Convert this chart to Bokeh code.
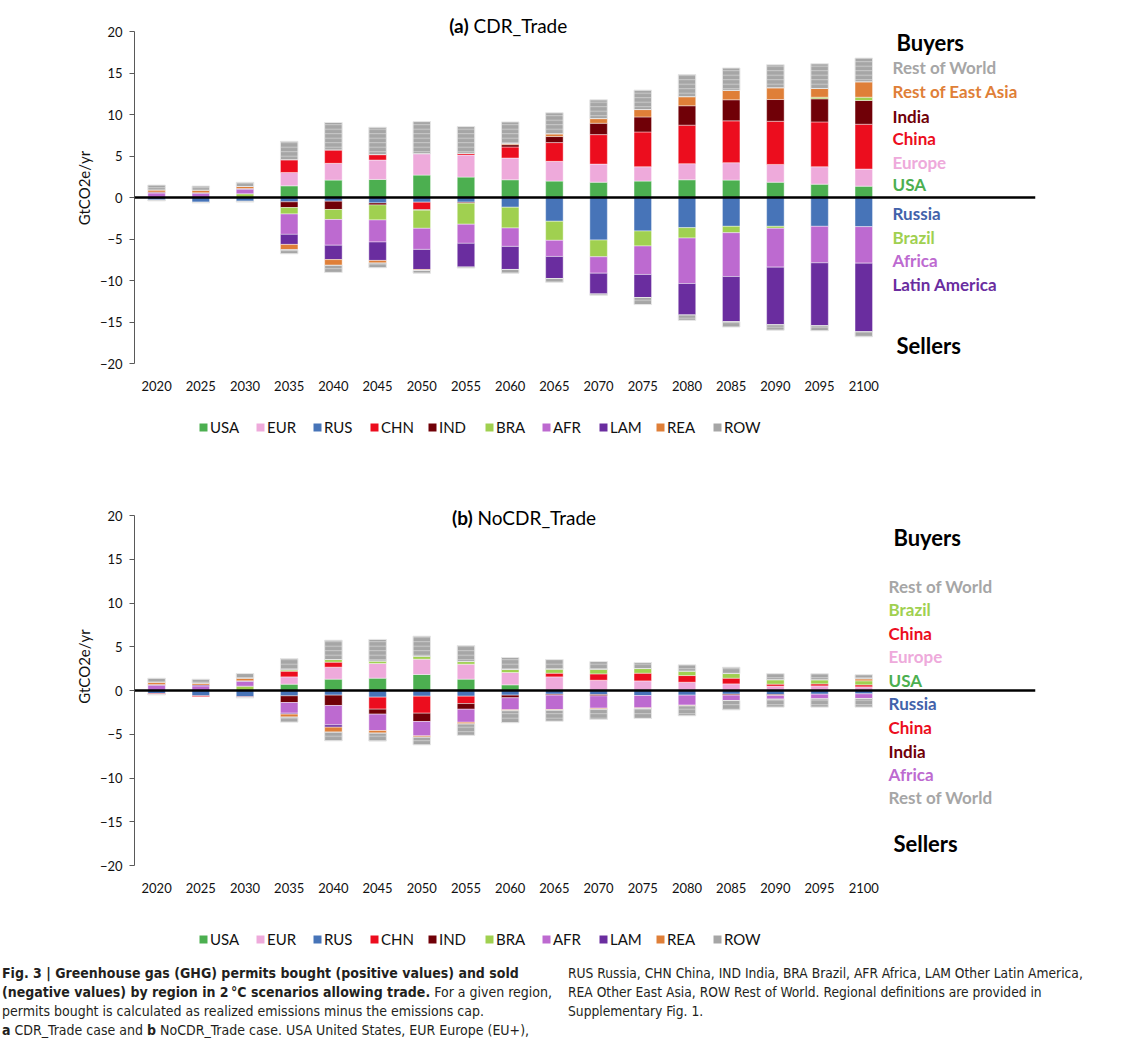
import numpy as np
from bokeh.plotting import figure
from bokeh.models import (Range1d, FixedTicker, Span, Label, Legend, LegendItem,
                          Div, ColumnDataSource)
from bokeh.layouts import column
from bokeh.embed import file_html
from bokeh.resources import INLINE

# ---------------- data ----------------
years = ["2020", "2025", "2030", "2035", "2040", "2045", "2050", "2055", "2060",
         "2065", "2070", "2075", "2080", "2085", "2090", "2095", "2100"]
regions = ["USA", "EUR", "RUS", "CHN", "IND", "BRA", "AFR", "LAM", "REA", "ROW"]

# (a) CDR_Trade  (GtCO2e/yr; + bought, - sold)
a_USA = [0, 0, 0, 1.41, 2.10, 2.18, 2.70, 2.46, 2.14, 1.98, 1.85, 1.98, 2.14, 2.10, 1.85, 1.61, 1.37]
a_EUR = [0, 0, 0, 1.61, 2.02, 2.34, 2.58, 2.66, 2.62, 2.38, 2.18, 1.73, 1.94, 2.10, 2.14, 2.10, 2.06]
a_RUS = [-0.30, -0.55, -0.45, -0.52, -0.44, -0.65, -0.56, -0.56, -1.17, -2.86, -5.12, -4.03, -3.63, -3.47, -3.47, -3.47, -3.51]
a_CHN = [0, -0.05, 0, 1.53, 1.61, 0.65, -0.89, 0.20, 1.33, 2.26, 3.55, 4.19, 4.64, 5.04, 5.20, 5.40, 5.40]
a_IND = [0, 0, 0, -0.69, -1.00, -0.24, -0.08, -0.12, 0.28, 0.73, 1.37, 1.81, 2.34, 2.54, 2.62, 2.78, 2.86]
a_BRA = [0, 0, 0.45, -0.77, -1.21, -1.81, -2.18, -2.54, -2.50, -2.30, -2.02, -1.81, -1.25, -0.77, -0.24, 0.20, 0.40]
a_AFR = [0.55, 0.50, 0.55, -2.46, -3.10, -2.66, -2.54, -2.30, -2.22, -1.94, -1.98, -3.43, -5.48, -5.28, -4.68, -4.40, -4.40]
a_LAM = [0.10, 0.08, 0.08, -1.21, -1.73, -2.22, -2.42, -2.86, -2.78, -2.66, -2.50, -2.78, -3.79, -5.44, -6.94, -7.58, -8.27]
a_REA = [0.25, 0.30, 0.25, -0.65, -0.69, -0.32, -0.12, 0, 0.12, 0.32, 0.56, 0.89, 1.09, 1.13, 1.41, 1.05, 1.85]
a_ROW_buy = [0.60, 0.50, 0.50, 2.22, 3.31, 3.30, 3.87, 3.23, 2.62, 2.54, 2.26, 2.34, 2.66, 2.70, 2.78, 2.98, 2.86]
a_ROW_sell = [-0.10, -0.05, -0.10, -0.48, -0.85, -0.56, -0.32, -0.12, -0.44, -0.44, -0.16, -0.85, -0.65, -0.65, -0.65, -0.60, -0.60]

# (b) NoCDR_Trade
b_USA = [0, 0, 0, 0.72, 1.30, 1.41, 1.83, 1.30, 0.65, 0, 0, 0, 0, 0, 0, 0, 0]
b_EUR = [0, 0, 0, 0.84, 1.37, 1.68, 1.75, 1.71, 1.41, 1.56, 1.18, 1.10, 0.95, 0.76, 0.50, 0.53, 0.42]
b_RUS = [-0.35, -0.60, -0.70, -0.61, -0.53, -0.76, -0.65, -0.65, -0.53, -0.42, -0.46, -0.57, -0.53, -0.42, -0.46, -0.42, -0.38]
b_CHN = [-0.10, -0.10, -0.10, 0.65, 0.57, -1.37, -1.94, -0.84, 0, 0.42, 0.72, 0.88, 0.76, 0.65, 0.23, 0.23, 0.23]
b_IND = [0, 0, 0, -0.76, -1.18, -0.57, -0.95, -0.65, -0.30, -0.11, -0.15, 0, 0, -0.11, -0.11, 0, 0]
b_BRA = [0, 0, 0.50, 0.15, 0.30, 0.27, 0.34, 0.30, 0.34, 0.46, 0.53, 0.53, 0.50, 0.53, 0.50, 0.46, 0.46]
b_AFR = [0.60, 0.53, 0.53, -1.22, -2.21, -1.87, -1.64, -1.49, -1.37, -1.64, -1.41, -1.41, -1.14, -0.61, -0.42, -0.53, -0.53]
b_LAM = [0.10, 0.10, 0.08, -0.11, -0.27, 0, 0, 0, 0, 0, 0, 0, 0, 0, 0, 0, 0]
b_REA = [0.25, 0.20, 0.30, -0.34, -0.57, -0.30, -0.15, -0.19, -0.11, -0.08, -0.11, -0.08, -0.08, 0, 0, 0, 0.23]
b_ROW_buy = [0.45, 0.46, 0.53, 1.30, 2.21, 2.48, 2.29, 1.83, 1.37, 1.10, 0.88, 0.69, 0.72, 0.72, 0.69, 0.69, 0.46]
b_ROW_sell = [-0.05, 0, -0.05, -0.57, -0.99, -0.91, -0.88, -1.30, -1.37, -1.26, -1.18, -1.14, -1.14, -1.07, -0.91, -0.95, -0.99]

a_side_names = ["Rest of World", "Rest of East Asia", "India", "China", "Europe", "USA",
                "Russia", "Brazil", "Africa", "Latin America"]
a_side_keys = ["ROW", "REA", "IND", "CHN", "EUR", "USA", "RUS", "BRA", "AFR", "LAM"]
b_side_names = ["Rest of World", "Brazil", "China", "Europe", "USA",
                "Russia", "China", "India", "Africa", "Rest of World"]
b_side_keys = ["ROW", "BRA", "CHN", "EUR", "USA", "RUS", "CHN", "IND", "AFR", "ROW"]

colors = {"USA": "#4CAF50", "EUR": "#EEAADB", "RUS": "#4774B8", "CHN": "#EC0D1E",
          "IND": "#700007", "BRA": "#A0D050", "AFR": "#BD6AD0", "LAM": "#6A2D9F",
          "REA": "#DF7F38", "ROW": "#A6A6A6"}
label_colors = dict(colors)
label_colors["RUS"] = "#4262AA"

FONT = "Lato"
W = 1118
LEFT = 134
RIGHT = 83
BAR_W = 0.396
SOLID = dict(line_color="white", line_width=0.6, line_alpha=0.7)
HATCH = dict(line_color="#E6E6E6", line_width=1, hatch_pattern="horizontal_line",
             hatch_color="#D4D4D4", hatch_scale=4.5, hatch_weight=0.8)


def stack_sources(data, row_buy, row_sell):
    n = len(years)
    idx = np.arange(n)
    pos = np.zeros(n)
    neg = np.zeros(n)
    out = []
    for r in regions[:-1]:
        v = np.array(data[r], dtype=float)
        bottom = np.where(v >= 0, pos, neg + v)
        top = np.where(v >= 0, pos + v, neg)
        keep = v != 0
        out.append((r, ColumnDataSource(dict(x=idx[keep], bottom=bottom[keep], top=top[keep]))))
        pos = pos + np.clip(v, 0, None)
        neg = neg + np.clip(v, None, 0)
    vb = np.array(row_buy, dtype=float)
    vs = np.array(row_sell, dtype=float)
    kb = vb != 0
    ks = vs != 0
    out.append(("ROW", ColumnDataSource(dict(x=idx[kb], bottom=pos[kb], top=(pos + vb)[kb]))))
    out.append(("ROW", ColumnDataSource(dict(x=idx[ks], bottom=(neg + vs)[ks], top=neg[ks]))))
    return out


def make_panel(sources, tag, name, y_end, height, top_border, side_names, side_keys,
               side_y, title_y, title_x, buyers_y, sellers_y, side_x, head_x):
    n = len(years)
    p = figure(width=W, height=height, output_backend="svg", toolbar_location=None,
               x_range=Range1d(-0.5, 19.885), y_range=Range1d(-20, y_end),
               min_border_left=LEFT, min_border_right=RIGHT, min_border_top=top_border,
               min_border_bottom=37)
    p.outline_line_color = None
    p.xgrid.visible = False
    p.ygrid.visible = False

    for r, src in sources:
        style = HATCH if r == "ROW" else SOLID
        p.vbar(x="x", bottom="bottom", top="top", width=BAR_W, source=src,
               fill_color=colors[r], **style)

    p.add_layout(Span(location=0, dimension="width", line_color="black", line_width=2.5))

    ya = p.yaxis[0]
    ya.ticker = FixedTicker(ticks=list(range(-20, 21, 5)))
    ya.bounds = (-20, 20)
    ya.axis_label = "GtCO2e/yr"
    ya.axis_label_text_font = FONT
    ya.axis_label_text_font_style = "normal"
    ya.axis_label_text_font_size = "15px"
    ya.axis_label_text_color = "#111111"
    ya.axis_label_standoff = 4
    ya.major_label_text_font = FONT
    ya.major_label_text_font_size = "13px"
    ya.major_label_text_color = "#111111"
    ya.major_label_standoff = 7
    ya.major_tick_out = 5
    ya.major_tick_in = 0
    ya.minor_tick_line_color = None
    ya.axis_line_color = "#595959"
    ya.major_tick_line_color = "#595959"

    xa = p.xaxis[0]
    xa.ticker = FixedTicker(ticks=list(range(n)))
    xa.major_label_overrides = {i: years[i] for i in range(n)}
    xa.axis_line_color = None
    xa.major_tick_line_color = None
    xa.minor_tick_line_color = None
    xa.major_label_standoff = 11
    xa.major_label_text_font = FONT
    xa.major_label_text_font_size = "13px"
    xa.major_label_text_color = "#111111"

    p.add_layout(Label(x=title_x[0], y=title_y, text=tag, text_align="right",
                       text_baseline="middle", text_font=FONT, text_font_style="bold",
                       text_font_size="19px", text_color="black"))
    p.add_layout(Label(x=title_x[1], y=title_y, text=name, text_align="left",
                       text_baseline="middle", text_font=FONT, text_font_style="normal",
                       text_font_size="19px", text_color="black"))

    for txt, yy in (("Buyers", buyers_y), ("Sellers", sellers_y)):
        p.add_layout(Label(x=head_x, y=yy, text=txt, text_align="left", text_baseline="middle",
                           text_font=FONT, text_font_style="bold", text_font_size="22px",
                           text_color="black"))
    for txt, key, yy in zip(side_names, side_keys, side_y):
        p.add_layout(Label(x=side_x, y=yy, text=txt, text_align="left", text_baseline="middle",
                           text_font=FONT, text_font_style="bold", text_font_size="17px",
                           text_color=label_colors[key]))
    return p


def make_legend(sources, height, loc):
    # same bar data, drawn out of view; only the legend of this strip is seen
    q = figure(width=W, height=height, output_backend="svg", toolbar_location=None,
               x_range=Range1d(-0.5, 19.885), y_range=Range1d(500, 501),
               x_axis_location=None, y_axis_location=None,
               min_border_left=LEFT, min_border_right=RIGHT, min_border_top=0,
               min_border_bottom=0)
    q.outline_line_color = None
    q.xgrid.visible = False
    q.ygrid.visible = False
    first = {}
    for r, src in sources:
        rr = q.vbar(x="x", bottom="bottom", top="top", width=BAR_W, source=src,
                    fill_color=colors[r], line_color=None)
        first.setdefault(r, rr)
    items = [LegendItem(label=r, renderers=[first[r]]) for r in regions]
    leg = Legend(items=items, orientation="horizontal", location=loc,
                 glyph_width=10, glyph_height=10, label_standoff=2, label_width=32,
                 label_height=16, spacing=13, padding=0, margin=0,
                 border_line_color=None, background_fill_alpha=0,
                 label_text_font=FONT, label_text_font_size="15px",
                 label_text_color="#111111")
    q.add_layout(leg)
    return q


data_a = dict(USA=a_USA, EUR=a_EUR, RUS=a_RUS, CHN=a_CHN, IND=a_IND, BRA=a_BRA,
              AFR=a_AFR, LAM=a_LAM, REA=a_REA)
data_b = dict(USA=b_USA, EUR=b_EUR, RUS=b_RUS, CHN=b_CHN, IND=b_IND, BRA=b_BRA,
              AFR=b_AFR, LAM=b_LAM, REA=b_REA)
src_a = stack_sources(data_a, a_ROW_buy, a_ROW_sell)
src_b = stack_sources(data_b, b_ROW_buy, b_ROW_sell)

pa = make_panel(src_a, "(a)", "CDR_Trade", 22.296, 400, 12,
                a_side_names, a_side_keys,
                [15.61, 12.83, 9.81, 7.15, 4.25, 1.60, -1.91, -4.83, -7.61, -10.48],
                20.69, (7.06, 7.17), 18.63, -17.86, 16.65, 16.74)
la = make_legend(src_a, 63, (64, 27))
pb = make_panel(src_b, "(b)", "NoCDR_Trade", 25.49, 439, 4,
                b_side_names, b_side_keys,
                [11.92, 9.29, 6.55, 3.92, 1.18, -1.45, -4.19, -6.94, -9.57, -12.2],
                19.8, (7.15, 7.26), 17.52, -17.45, 16.56, 16.67)
lb = make_legend(src_b, 51, (64, 5))

cap_font = "'Liberation Sans Narrow','DejaVu Sans Condensed','Liberation Sans',sans-serif"
caption = Div(width=W, height=80, text=f"""
<div style="position:relative;width:{W}px;height:80px;font-family:{cap_font};line-height:19px;color:#231f20;">
<div style="position:absolute;left:-3px;top:6px;white-space:nowrap;font-size:14px;">
<b>Fig. 3 | Greenhouse gas (GHG) permits bought (positive values) and sold</b><br>
<b>(negative values) by region in 2&#8201;°C scenarios allowing trade.</b> For a given region,<br>
permits bought is calculated as realized emissions minus the emissions cap.<br>
<b>a</b> CDR_Trade case and <b>b</b> NoCDR_Trade case. USA United States, EUR Europe (EU+),
</div>
<div style="position:absolute;left:563px;top:6px;white-space:nowrap;font-size:13.7px;">
RUS Russia, CHN China, IND India, BRA Brazil, AFR Africa, LAM Other Latin America,<br>
REA Other East Asia, ROW Rest of World. Regional definitions are provided in<br>
Supplementary Fig. 1.
</div>
</div>
""")

layout = column(pa, la, pb, lb, caption)
open("out.html", "w").write(file_html(layout, INLINE))
